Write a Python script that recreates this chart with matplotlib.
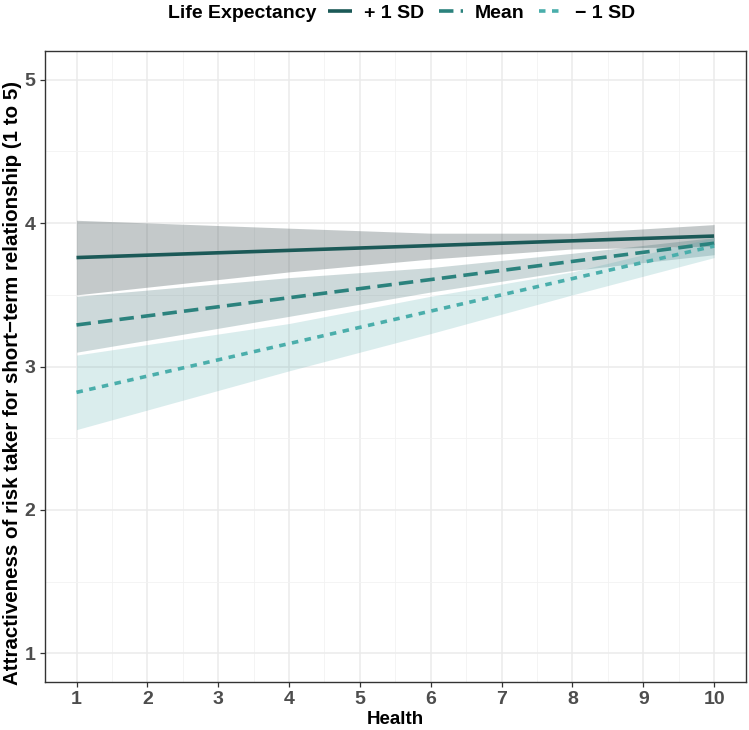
import matplotlib
matplotlib.use("Agg")
import matplotlib.pyplot as plt
import numpy as np

plt.rcParams['font.family'] = ['Liberation Sans', 'DejaVu Sans']

health = [1, 10]
plus_sd_line = [3.76, 3.91]
mean_line = [3.29, 3.86]
minus_sd_line = [2.82, 3.84]

rib_x = [1, 4, 6, 8, 10]
plus_lo = [3.50, 3.66, 3.75, 3.82, 3.84]
plus_hi = [4.02, 3.965, 3.93, 3.93, 3.99]
mean_lo = [3.10, 3.35, 3.52, 3.67, 3.78]
mean_hi = [3.49, 3.62, 3.69, 3.79, 3.90]
minus_lo = [2.56, 2.97, 3.23, 3.50, 3.76]
minus_hi = [3.08, 3.30, 3.49, 3.66, 3.90]

labels = ['+ 1 SD', 'Mean', '\u2212 1 SD']
line_colors = ['#1b5957', '#2b827d', '#4aaeab']
fill_colors = ['#3d4f52', '#3a6b6e', '#4aa5a8']
fill_alphas = [0.30, 0.25, 0.20]
styles = ['-', (0, (4, 2)), (0, (1.8, 1.8))]

x_ticks = list(range(1, 11))
y_ticks = [1, 2, 3, 4, 5]

fig = plt.figure(figsize=(7.49, 7.30), dpi=100)
ax = fig.add_axes([0.0596, 0.0658, 0.9364, 0.8642])

ax.set_xlim(0.55, 10.45)
ax.set_ylim(0.8, 5.2)
ax.set_xticks(x_ticks)
ax.set_yticks(y_ticks)
ax.set_xticks(np.arange(1.5, 10, 1), minor=True)
ax.set_yticks(np.arange(1.5, 5, 1), minor=True)
ax.grid(which='major', color='#ebebeb', lw=1.1)
ax.grid(which='minor', color='#f2f2f2', lw=0.6)
ax.set_axisbelow(True)
ax.tick_params(which='minor', length=0)
ax.tick_params(which='major', length=3.5, width=0.9, color='#333333',
               labelsize=14, labelcolor='#4d4d4d', pad=3)
for lab in ax.get_xticklabels() + ax.get_yticklabels():
    lab.set_fontweight('bold')
for s in ax.spines.values():
    s.set_color('#333333')
    s.set_linewidth(1.0)

ribbons = [(plus_lo, plus_hi), (mean_lo, mean_hi), (minus_lo, minus_hi)]
lines = [plus_sd_line, mean_line, minus_sd_line]
for (lo, hi), fc, fa in zip(ribbons, fill_colors, fill_alphas):
    ax.fill_between(rib_x, lo, hi, color=fc, alpha=fa, lw=0)
handles = []
for yv, lc, ls, lab in zip(lines, line_colors, styles, labels):
    ln, = ax.plot(health, yv, color=lc, lw=2.6, linestyle=ls, label=lab,
                  solid_capstyle='butt', dash_capstyle='butt')
    handles.append(ln)

ax.set_xlabel('Health', fontsize=13.5, fontweight='bold', labelpad=2)
ax.set_ylabel('Attractiveness of risk taker for short\u2212term relationship (1 to 5)',
              fontsize=14.8, fontweight='bold')
ax.yaxis.set_label_coords(-0.032, 0.474)

fig.text(0.224, 0.982, 'Life Expectancy', fontsize=14, fontweight='bold',
         ha='left', va='center')
fig.legend(handles=handles, labels=labels, ncol=3, loc='center left',
           bbox_to_anchor=(0.438, 0.982), frameon=False,
           prop={'size': 14, 'weight': 'bold'}, handlelength=1.25,
           handletextpad=0.62, columnspacing=0.72, borderaxespad=0, borderpad=0)

fig.savefig('out.png', dpi=100)
